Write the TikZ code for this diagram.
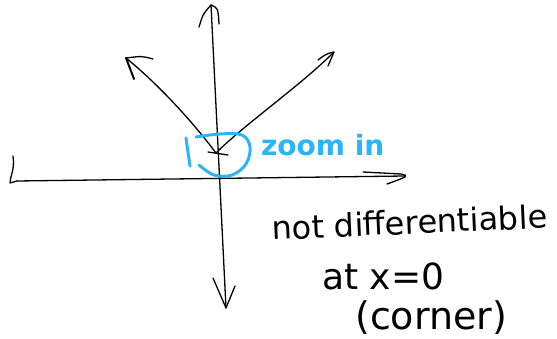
\documentclass[tikz,border=0pt]{standalone}
\usepackage{fontspec}
\setmainfont{DejaVu Sans}
\usepackage{tikz}
\definecolor{penblue}{RGB}{41,182,246}
\tikzset{
  penline/.style  = {black, line width=1.3pt, line cap=round, line join=round},
  markline/.style = {penblue, line width=3pt, line cap=round, line join=round},
  notetext/.style = {black, inner sep=0pt, font=\fontsize{32}{34}\selectfont}
}

\begin{document}
\begin{tikzpicture}[x=1pt,y=-1pt]
  \useasboundingbox (0,0) rectangle (557,339);
  % ends of the axes, the corner and the two branch tips
  \coordinate (xl)   at (17,181);
  \coordinate (xr)   at (405,176);
  \coordinate (yt)   at (211,5);
  \coordinate (yb)   at (226,308);
  \coordinate (vtx)  at (216,153);
  \coordinate (ltip) at (126,58);
  \coordinate (rtip) at (334,52);
  % axes, with their rough heads
  \draw[penline] (xl) -- (xr);
  \draw[penline] (13,156) .. controls (15,170) and (10,176) .. (10,183) -- (xl);
  \draw[penline] (363,172) -- (401,174) .. controls (409,176) .. (387,184);
  \draw[penline] (yt) -- (yb);
  \draw[penline] (199,27) .. controls (203,14) .. (yt) .. controls (218,8) .. (219,24);
  \draw[penline] (213,278) -- (yb) -- (235,286);
  % |x| : two branches meeting at the corner
  \draw[penline] (ltip) .. controls (158,84) and (192,121) .. (vtx);
  \draw[penline] (vtx) .. controls (245,124) and (300,86) .. (rtip);
  \draw[penline] (153,59) .. controls (142,56) .. (ltip);
  \draw[penline, line width=2pt] (ltip) -- (134,79);
  \draw[penline] (318,60) .. controls (326,54) .. (rtip) -- (328,66);
  \draw[penline] (208,152) -- (228,155);
  % the zoom-in ring round the corner
  \draw[markline] (186,138) -- (190,166);
  \draw[markline] plot[smooth, tension=0.6] coordinates
    {(196,137) (220,134) (242,135) (250,147) (246,164) (232,175) (214,175) (199,165)};
  \node[penblue, inner sep=0pt, anchor=base west, font=\fontsize{28}{30}\selectfont\bfseries]
       (zoom) at (261,156) {zoom in};
  % the note
  \node[notetext, anchor=base west, rotate=2.5] (nd)  at (272,240) {not differentiable};
  \node[notetext, anchor=base west, font=\fontsize{36}{38}\selectfont] (atx) at (322,290) {at x=0};
  \node[notetext, anchor=base west, font=\fontsize{38}{40}\selectfont] (crn) at (355,329) {(corner)};
\end{tikzpicture}
\end{document}
